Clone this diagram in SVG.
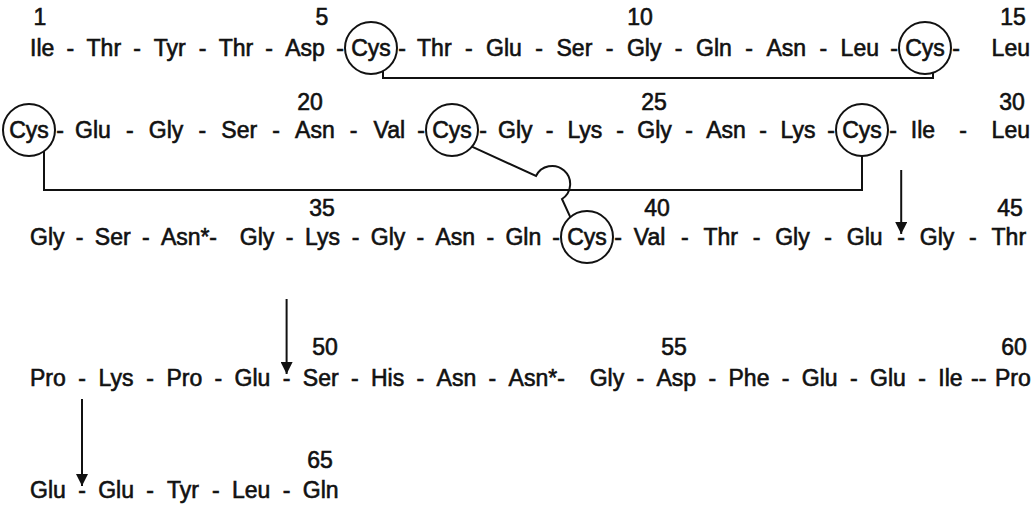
<svg xmlns="http://www.w3.org/2000/svg" width="1034" height="508" viewBox="0 0 1034 508">
<style>
text{font-family:"Liberation Sans",Arial,Helvetica,sans-serif;font-size:23px;fill:#111;stroke:#111;stroke-width:0.6;text-anchor:middle}
.ring{fill:none;stroke:#111;stroke-width:2}
.ln{fill:none;stroke:#111;stroke-width:2}
</style>
<defs>
<marker id="ah" viewBox="0 0 10 10" refX="10" refY="5" markerWidth="12" markerHeight="12" markerUnits="userSpaceOnUse" orient="auto"><path d="M0,0 L10,5 L0,10 z" fill="#111"/></marker>
</defs>
<rect width="1034" height="508" fill="#fff"/>
<g id="numbers">
<text x="40" y="25">1</text><text x="322" y="25">5</text><text x="640" y="25">10</text><text x="1013" y="25">15</text>
<text x="310" y="110">20</text><text x="654" y="110">25</text><text x="1012" y="110">30</text>
<text x="322" y="216">35</text><text x="657" y="216">40</text><text x="1010" y="216">45</text>
<text x="325" y="355">50</text><text x="674" y="355">55</text><text x="1014" y="355">60</text>
<text x="320" y="468">65</text>
</g>
<g id="row1">
<g id="r1"><text x="42.2" y="56">Ile</text></g>
<g id="r2"><text x="103.8" y="56">Thr</text></g>
<g id="r3"><text x="169.8" y="56">Tyr</text></g>
<g id="r4"><text x="235.9" y="56">Thr</text></g>
<g id="r5"><text x="305.1" y="56">Asp</text></g>
<g id="r6"><circle class="ring" cx="371" cy="48" r="26"/><text x="371" y="56">Cys</text></g>
<g id="r7"><text x="434.3" y="56">Thr</text></g>
<g id="r8"><text x="504" y="56">Glu</text></g>
<g id="r9"><text x="574.4" y="56">Ser</text></g>
<g id="r10"><text x="644.2" y="56">Gly</text></g>
<g id="r11"><text x="713.9" y="56">Gln</text></g>
<g id="r12"><text x="786.2" y="56">Asn</text></g>
<g id="r13"><text x="859.8" y="56">Leu</text></g>
<g id="r14"><circle class="ring" cx="925" cy="48" r="26"/><text x="925" y="56">Cys</text></g>
<g id="r15"><text x="1010.8" y="56">Leu</text></g>
</g>
<g id="row2">
<g id="r16"><circle class="ring" cx="29" cy="130" r="26"/><text x="29" y="138">Cys</text></g>
<g id="r17"><text x="92.9" y="138">Glu</text></g>
<g id="r18"><text x="166.1" y="138">Gly</text></g>
<g id="r19"><text x="239.2" y="138">Ser</text></g>
<g id="r20"><text x="314.9" y="138">Asn</text></g>
<g id="r21"><text x="389.3" y="138">Val</text></g>
<g id="r22"><circle class="ring" cx="452" cy="130" r="26"/><text x="452" y="138">Cys</text></g>
<g id="r23"><text x="515.3" y="138">Gly</text></g>
<g id="r24"><text x="584.9" y="138">Lys</text></g>
<g id="r25"><text x="654.5" y="138">Gly</text></g>
<g id="r26"><text x="726" y="138">Asn</text></g>
<g id="r27"><text x="798.1" y="138">Lys</text></g>
<g id="r28"><circle class="ring" cx="862" cy="130" r="26"/><text x="862" y="138">Cys</text></g>
<g id="r29"><text x="923" y="138">Ile</text></g>
<g id="r30"><text x="1010.8" y="138">Leu</text></g>
</g>
<g id="row3">
<g id="r31"><text x="47.3" y="245">Gly</text></g>
<g id="r32"><text x="112.7" y="245">Ser</text></g>
<g id="r33"><text x="185.2" y="245">Asn*</text></g>
<g id="r34"><text x="257.1" y="245">Gly</text></g>
<g id="r35"><text x="322.5" y="245">Lys</text></g>
<g id="r36"><text x="388" y="245">Gly</text></g>
<g id="r37"><text x="455.3" y="245">Asn</text></g>
<g id="r38"><text x="523.3" y="245">Gln</text></g>
<g id="r39"><circle class="ring" cx="587" cy="237" r="26"/><text x="587" y="245">Cys</text></g>
<g id="r40"><text x="649.6" y="245">Val</text></g>
<g id="r41"><text x="720.7" y="245">Thr</text></g>
<g id="r42"><text x="792.4" y="245">Gly</text></g>
<g id="r43"><text x="864.7" y="245">Glu</text></g>
<g id="r44"><text x="937.1" y="245">Gly</text></g>
<g id="r45"><text x="1008.8" y="245">Thr</text></g>
</g>
<g id="row4">
<g id="r46"><text x="47.9" y="386">Pro</text></g>
<g id="r47"><text x="116.1" y="386">Lys</text></g>
<g id="r48"><text x="184.3" y="386">Pro</text></g>
<g id="r49"><text x="252.5" y="386">Glu</text></g>
<g id="r50"><text x="320.7" y="386">Ser</text></g>
<g id="r51"><text x="387.6" y="386">His</text></g>
<g id="r52"><text x="456.4" y="386">Asn</text></g>
<g id="r53"><text x="532.9" y="386">Asn*</text></g>
<g id="r54"><text x="606.9" y="386">Gly</text></g>
<g id="r55"><text x="676.3" y="386">Asp</text></g>
<g id="r56"><text x="749" y="386">Phe</text></g>
<g id="r57"><text x="819.7" y="386">Glu</text></g>
<g id="r58"><text x="887.9" y="386">Glu</text></g>
<g id="r59"><text x="950.4" y="386">Ile</text></g>
<g id="r60"><text x="1012.8" y="386">Pro</text></g>
</g>
<g id="row5">
<g id="r61"><text x="47.9" y="498">Glu</text></g>
<g id="r62"><text x="116.1" y="498">Glu</text></g>
<g id="r63"><text x="183" y="498">Tyr</text></g>
<g id="r64"><text x="251.2" y="498">Leu</text></g>
<g id="r65"><text x="320.7" y="498">Gln</text></g>
</g>
<g id="connectors">
<g id="bonds">
<text x="70.4" y="56">-</text><text x="137.1" y="56">-</text><text x="202.5" y="56">-</text><text x="269.2" y="56">-</text><text x="340" y="56">-</text><text x="402" y="56">-</text><text x="468.8" y="56">-</text><text x="539.2" y="56">-</text><text x="609.6" y="56">-</text><text x="678.7" y="56">-</text><text x="749.1" y="56">-</text><text x="823.3" y="56">-</text><text x="894" y="56">-</text><text x="956" y="56">-</text>
<text x="60" y="138">-</text><text x="129.8" y="138">-</text><text x="202.3" y="138">-</text><text x="276.1" y="138">-</text><text x="353.7" y="138">-</text><text x="421" y="138">-</text><text x="483" y="138">-</text><text x="549.7" y="138">-</text><text x="620" y="138">-</text><text x="689" y="138">-</text><text x="763" y="138">-</text><text x="831" y="138">-</text><text x="893" y="138">-</text><text x="963" y="138">-</text>
<text x="79.6" y="245">-</text><text x="145.8" y="245">-</text><text x="213.2" y="245">-</text><text x="289.5" y="245">-</text><text x="355.6" y="245">-</text><text x="420.4" y="245">-</text><text x="490.3" y="245">-</text><text x="556" y="245">-</text><text x="618" y="245">-</text><text x="684.8" y="245">-</text><text x="756.5" y="245">-</text><text x="828.2" y="245">-</text><text x="901.2" y="245">-</text><text x="972.9" y="245">-</text>
<text x="82" y="386">-</text><text x="150.2" y="386">-</text><text x="218.4" y="386">-</text><text x="286.6" y="386">-</text><text x="354.8" y="386">-</text><text x="420.4" y="386">-</text><text x="492.4" y="386">-</text><text x="561" y="386">-</text><text x="640.3" y="386">-</text><text x="712.3" y="386">-</text><text x="785.6" y="386">-</text><text x="853.8" y="386">-</text><text x="922" y="386">-</text><text x="978.7" y="386">--</text>
<text x="82" y="498">-</text><text x="150.2" y="498">-</text><text x="215.8" y="498">-</text><text x="286.6" y="498">-</text>
</g>
<path class="ln" d="M383,71 V78 H933 V72.7"/>
<path class="ln" d="M44,151 V190 H862 V156"/>
<path class="ln" d="M471.9,146.7 L536,176 A18,18 0 1 1 562,199 L570.3,217.1"/>
<line class="ln" x1="901.2" y1="170" x2="901.2" y2="234" marker-end="url(#ah)"/>
<line class="ln" x1="286.6" y1="299" x2="286.6" y2="374" marker-end="url(#ah)"/>
<line class="ln" x1="82" y1="399" x2="82" y2="486" marker-end="url(#ah)"/>
</g>
</svg>
